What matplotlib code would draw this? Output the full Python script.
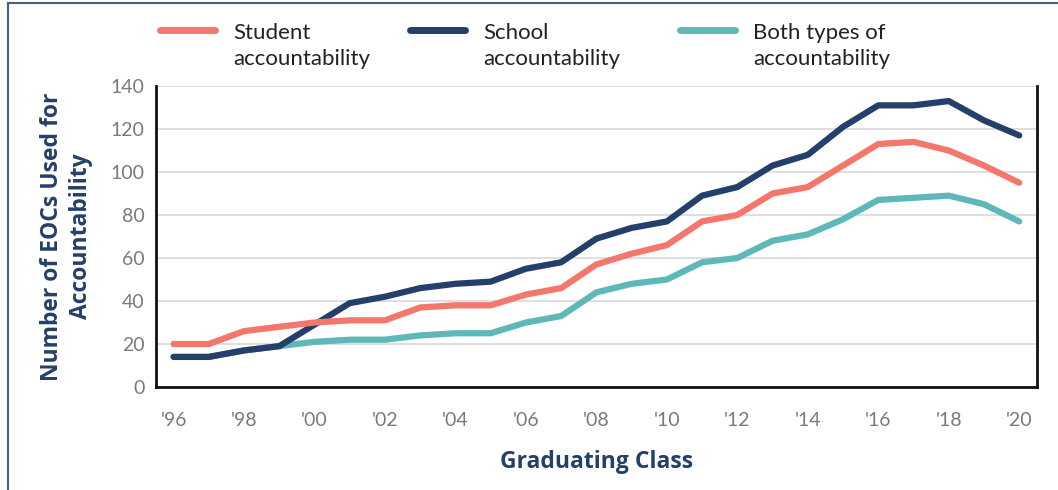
import matplotlib
matplotlib.use("Agg")
import matplotlib.pyplot as plt
from matplotlib.lines import Line2D

# graduating class years and tick labels
years = list(range(1996, 2021))
tick_years = list(range(1996, 2021, 2))
tick_labels = ["'96", "'98", "'00", "'02", "'04", "'06", "'08", "'10", "'12", "'14", "'16", "'18", "'20"]

# number of EOCs used for accountability
student = [20, 20, 26, 28, 30, 31, 31, 37, 38, 38, 43, 46,
           57, 62, 66, 77, 80, 90, 93, 103, 113, 114, 110, 103, 95]
school = [14, 14, 17, 19, 29, 39, 42, 46, 48, 49, 55, 58,
          69, 74, 77, 89, 93, 103, 108, 121, 131, 131, 133, 124, 117]
both = [14, 14, 17, 19, 21, 22, 22, 24, 25, 25, 30, 33,
        44, 48, 50, 58, 60, 68, 71, 78, 87, 88, 89, 85, 77]

red = "#F4776B"
navy = "#24406A"
teal = "#5FB8B8"
grey = "#7A7A7A"

plt.rcParams['font.family'] = ['Lato', 'DejaVu Sans']
W, H = 1058, 490

fig = plt.figure(figsize=(10.58, 4.9), dpi=100)
ax = fig.add_axes([0.1474, 0.2102, 0.8326, 0.6143])

ax.plot(years, both, color=teal, lw=4.5, zorder=3, solid_capstyle='round')
ax.plot(years, school, color=navy, lw=4.5, zorder=4, solid_capstyle='round')
ax.plot(years, student, color=red, lw=4.5, zorder=5, solid_capstyle='round')

ax.set_xlim(1995.5, 2020.5)
ax.set_ylim(0, 140)
ax.set_yticks(range(0, 141, 20))
ax.set_xticks(tick_years)
ax.set_xticklabels(tick_labels)
ax.yaxis.grid(True, color="#D9D9D9", lw=1.2)
ax.set_axisbelow(True)
ax.tick_params(length=0, labelsize=14, colors=grey)
ax.tick_params(axis='x', pad=18)
ax.tick_params(axis='y', pad=8)

for s in ["left", "bottom", "right"]:
    ax.spines[s].set_color("#111111")
    ax.spines[s].set_linewidth(2)
ax.spines["top"].set_visible(False)

lab_font = ['Open Sans', 'DejaVu Sans']
ax.set_xlabel("Graduating Class", fontsize=16.5, fontweight='bold', color=navy,
              labelpad=15, family=lab_font)
ax.set_ylabel("Number of EOCs Used for\nAccountability", fontsize=16.5, fontweight='bold',
              color=navy, labelpad=13, linespacing=1.25, family=lab_font)

# legend drawn by hand: handle level with the first text line
legend_items = [("Student\naccountability", red, 160),
                ("School\naccountability", navy, 410),
                ("Both types of\naccountability", teal, 680)]
for text, col, x0 in legend_items:
    fig.add_artist(Line2D([x0 / W, (x0 + 55) / W], [1 - 30 / H, 1 - 30 / H],
                          color=col, lw=5, solid_capstyle='round',
                          transform=fig.transFigure))
    fig.text((x0 + 73) / W, 1 - 23 / H, text, fontsize=16, color="#222222",
             va='top', ha='left', linespacing=1.35)

# outer frame lines (top and left)
fig.add_artist(Line2D([0.0075, 1.0], [0.994, 0.994], color="#4A5F80", lw=1.5,
                      transform=fig.transFigure))
fig.add_artist(Line2D([0.0075, 0.0075], [0.0, 0.994], color="#4A5F80", lw=1.5,
                      transform=fig.transFigure))

fig.savefig("out.png", dpi=100)
